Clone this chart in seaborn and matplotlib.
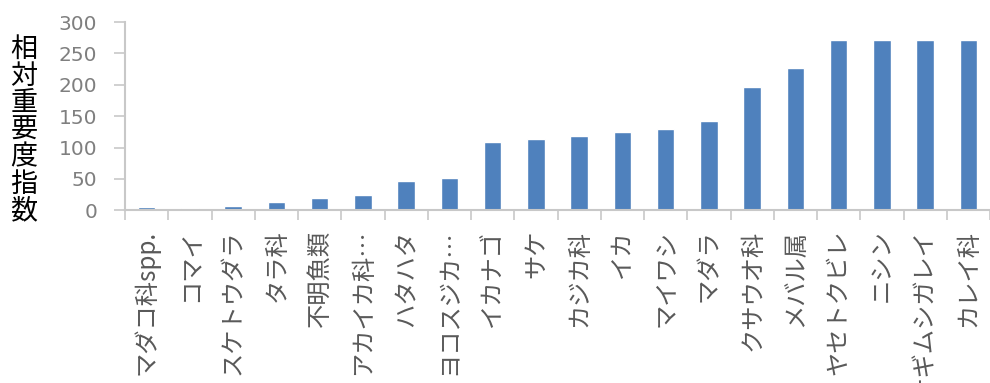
import matplotlib
matplotlib.use("Agg")
import matplotlib.pyplot as plt
import seaborn as sns
import numpy as np

categories = ["マダコ科spp.", "コマイ", "スケトウダラ", "タラ科", "不明魚類", "アカイカ科…",
              "ハタハタ", "ヨコスジカ…", "イカナゴ", "サケ", "カジカ科", "イカ",
              "マイワシ", "マダラ", "クサウオ科", "メバル属", "ヤセトクビレ", "ニシン",
              "ヤナギムシガレイ", "カレイ科"]
values = [5, 4, 7, 13, 19, 24, 46, 51, 109, 113, 118, 124, 130, 142, 196, 226, 271, 271, 271, 271]
yticks = [0, 50, 100, 150, 200, 250, 300]
ylabel_text = "相対重要度指数"

sns.set_theme(style="white")
plt.rcParams['font.family'] = ['Noto Sans CJK JP', 'DejaVu Sans']

W, H = 990, 383
fig = plt.figure(figsize=(W / 100, H / 100), dpi=100)
x0, y0pix, ytop = 125, 210.3, 22
ax = fig.add_axes([x0 / W, (H - y0pix) / H, (W - x0) / W, (y0pix - ytop) / H])

sns.barplot(x=categories, y=values, color="#4F81BD", saturation=1, width=0.41, ax=ax)

ax.set_ylim(0, 300)
ax.set_xlim(-0.5, 19.29)
ax.set_yticks(yticks)
ax.set_yticklabels([str(v) for v in yticks], family=['DejaVu Sans'], fontsize=14.5, color="#7F7F7F")
ax.tick_params(axis='y', which='major', length=8, width=1.2, color="#C8C8C8", pad=12, left=True)

ax.set_xticks(range(len(categories)))
ax.set_xticklabels(categories, rotation=90, fontsize=17.5, color="#595959",
                   family=['Noto Sans CJK JP', 'DejaVu Sans'])
ax.tick_params(axis='x', which='major', length=0, pad=14)
ax.set_xticks(np.arange(-0.5, len(categories), 1.0), minor=True)
ax.tick_params(axis='x', which='minor', length=7, width=1.2, color="#C8C8C8", bottom=True)

for s in ["top", "right"]:
    ax.spines[s].set_visible(False)
for s in ["left", "bottom"]:
    ax.spines[s].set_color("#C8C8C8")
    ax.spines[s].set_linewidth(1.5)

ax.set_xlabel("")
ax.set_ylabel("")
fig.text(24 / W, 1 - 130 / H, "\n".join(ylabel_text), ha="center", va="center",
         fontsize=19.5, linespacing=1.0, color="black",
         family=['Noto Sans CJK JP', 'DejaVu Sans'])

fig.savefig("out.png", dpi=100)
